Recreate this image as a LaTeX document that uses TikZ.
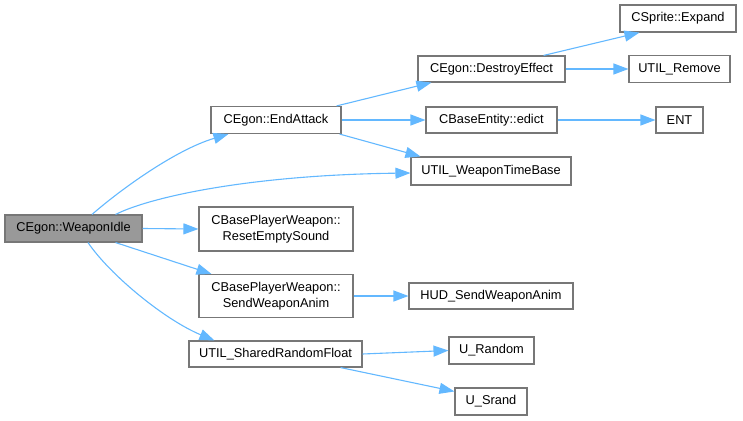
\documentclass[tikz,border=0pt]{standalone}
\usepackage{fontspec}
\setmainfont{Liberation Sans}
\usetikzlibrary{arrows.meta}

\definecolor{edgeblue}{HTML}{63B8FF}
\definecolor{boxgray}{HTML}{777777}
\definecolor{rootfill}{HTML}{999999}

\tikzset{
  fn/.style={draw=boxgray, line width=1.1pt, fill=white, inner sep=0pt,
    align=center, font=\fontsize{12.8}{15.6}\selectfont, text=black},
  root/.style={fn, fill=rootfill},
  call/.style={draw=edgeblue, line width=1.1pt,
    -{Triangle[length=15pt,width=11pt]}},
}

\begin{document}
\begin{tikzpicture}[x=1pt, y=-1pt]
        \useasboundingbox (0,0) rectangle (743,420);

        % Root of the call graph
        \node[root, minimum width=137, minimum height=27] (idle) at (73.5,228.5) {CEgon::WeaponIdle};

        % Called from the root
        \node[fn, minimum width=130, minimum height=27] (endatk) at (276,120) {CEgon::EndAttack};
        \node[fn, minimum width=154, minimum height=44] (reset) at (276,229) {CBasePlayerWeapon::\\ResetEmptySound};
        \node[fn, minimum width=154, minimum height=43] (sendanim) at (276,296) {CBasePlayerWeapon::\\SendWeaponAnim};
        \node[fn, minimum width=173, minimum height=26] (shared) at (275.5,354) {UTIL\_SharedRandomFloat};

        % Third column
        \node[fn, minimum width=147, minimum height=26] (destroy) at (491.5,69) {CEgon::DestroyEffect};
        \node[fn, minimum width=131, minimum height=26] (edict) at (491.5,120) {CBaseEntity::edict};
        \node[fn, minimum width=160, minimum height=28] (timebase) at (491,171) {UTIL\_WeaponTimeBase};
        \node[fn, minimum width=164, minimum height=26] (hudanim) at (491,296) {HUD\_SendWeaponAnim};
        \node[fn, minimum width=85, minimum height=27] (urandom) at (491.5,350.5) {U\_Random};
        \node[fn, minimum width=72, minimum height=27] (usrand) at (491,401.5) {U\_Srand};

        % Last column
        \node[fn, minimum width=116, minimum height=27] (expand) at (678,18.5) {CSprite::Expand};
        \node[fn, minimum width=101, minimum height=27] (uremove) at (679.5,69) {UTIL\_Remove};
        \node[fn, minimum width=47, minimum height=26] (ent) at (679.5,120) {ENT};

        % Calls made by the root
        \draw[call] ([xshift=18.5pt]idle.north) .. controls (120,190) and (175,150) .. ([xshift=18pt]endatk.south west);
        \draw[call] ([xshift=-27pt]idle.north east) .. controls (150,197) and (250,175) .. ([yshift=-2pt]timebase.west);
        \draw[call] (idle.east) -- (reset.west);
        \draw[call] ([xshift=-27pt]idle.south east) -- ([xshift=13pt]sendanim.north west);
        \draw[call] ([xshift=14.5pt]idle.south) .. controls (110,275) and (165,320) .. ([xshift=26pt]shared.north west);

        % Calls made by EndAttack
        \draw[call] ([xshift=-5pt]endatk.north east) -- ([xshift=14pt]destroy.south west);
        \draw[call] (endatk.east) -- (edict.west);
        \draw[call] ([xshift=-2pt]endatk.south east) -- ([xshift=10pt]timebase.north west);

        % Further down the graph
        \draw[call] ([xshift=-22pt]destroy.north east) -- ([xshift=20pt]expand.south west);
        \draw[call] (destroy.east) -- (uremove.west);
        \draw[call] (edict.east) -- (ent.west);
        \draw[call] (sendanim.east) -- (hudanim.west);
        \draw[call] (shared.east) -- (urandom.west);
        \draw[call] ([xshift=-22pt]shared.south east) -- ([yshift=-4pt]usrand.north west);
\end{tikzpicture}
\end{document}
